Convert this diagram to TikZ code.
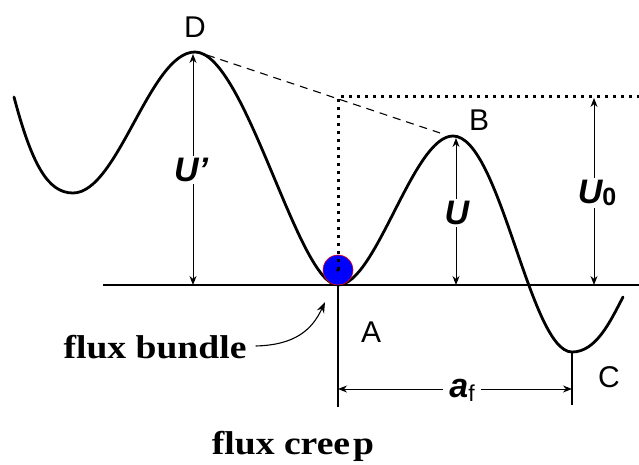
\documentclass[tikz,border=0pt]{standalone}
\usepackage{fontspec}
\setmainfont{Liberation Serif}
\setsansfont{Liberation Sans}
\newfontfamily\wideserif[FakeStretch=1.14]{Liberation Serif}
\usetikzlibrary{arrows.meta}
\begin{document}
\begin{tikzpicture}[x=1pt,y=-1pt,
  curve/.style={line width=2.8pt,line cap=round},
  base/.style={line width=1.3pt},
  dim/.style={line width=1pt,{Stealth[length=9pt,width=7pt]}-{Stealth[length=9pt,width=7pt]}},
  pt/.style={font=\sffamily\fontsize{30}{30}\selectfont,inner sep=1pt},
  sym/.style={font=\sffamily\bfseries\itshape\fontsize{34}{34}\selectfont,fill=white,inner sep=2pt},
  txt/.style={font=\wideserif\bfseries\fontsize{33}{33}\selectfont,inner sep=1pt},
  dotline/.style={line width=3pt,dash pattern=on 3pt off 5pt},
  dashline/.style={line width=1.1pt,dash pattern=on 8pt off 6pt}]
\useasboundingbox (0,0) rectangle (639,465);
% key points
\coordinate (S) at (14,97);
\coordinate (M) at (73,193);
\coordinate (Dp) at (195,52);
\coordinate (Ap) at (338,285);
\coordinate (Bp) at (453,136);
\coordinate (Cp) at (572,352);
\coordinate (E) at (623,297);
\coordinate (BL) at (103,285);
\coordinate (BR) at (639,285);
\coordinate (Top) at (338,97);
\coordinate (TR) at (639,97);
% baseline
\draw[base] (BL) -- (BR);
% potential curve
\draw[curve] (S) .. controls (32,165) and (48,193) .. (M)
  .. controls (118,193) and (150,52) .. (Dp)
  .. controls (245,52) and (298,285) .. (Ap)
  .. controls (376,285) and (413,136) .. (Bp)
  .. controls (500,136) and (530,352) .. (Cp)
  .. controls (596,352) and (610,322) .. (E);
% dashed line D-B
\draw[dashline] (207,55) -- (440,133);
% ball and dotted lines
\node (ball) [circle,fill=blue,draw=red,line width=0.6pt,minimum size=30pt,inner sep=0pt] at (338,270) {};
\draw[dotline] (ball.center) -- (Top) -- (TR);
\fill (ball.center) circle (1.8pt);
% verticals for a_f
\coordinate (Abot) at (338,407);
\coordinate (Cbot) at (572,405);
\draw[line width=1.1pt] (Ap) -- (Abot);
\draw[line width=1.1pt] (Cp) -- (Cbot);
% dimension arrows
\coordinate (U1t) at (193,54);  \coordinate (U1b) at (193,285);
\coordinate (U2t) at (456,138); \coordinate (U2b) at (456,285);
\coordinate (U3t) at (594,98);  \coordinate (U3b) at (594,285);
\coordinate (Al) at (338,389);  \coordinate (Cl) at (572,389);
\draw[dim] (U1t) -- (U1b);
\draw[dim] (U2t) -- (U2b);
\draw[dim] (U3t) -- (U3b);
\draw[dim] (Al) -- (Cl);
\node[sym] (Uprime) at (191,170) {U’};
\node[sym] (U) at (457,213) {U};
\node[sym] (U0) at (597,193) {U\raisebox{-2pt}{\upshape\fontsize{25}{25}\selectfont 0}};
\node[sym,inner xsep=6pt] (af) at (462,390) {a\raisebox{-4pt}{\upshape\mdseries\fontsize{23}{23}\selectfont f}};
% point labels
\node[pt] (D) at (195,27) {D};
\node[pt] (B) at (479,120) {B};
\node[pt] (A) at (371,332) {A};
\node[pt] (C) at (609,377) {C};
% texts
\node[txt] (fb) at (155,347) {flux bundle};
\node[txt] (fc) at (293,446) {flux cree\hspace{3pt}p};
\draw[line width=1.1pt,-{Stealth[length=11pt,width=8pt]}] (fb.east) ++(8,-1) .. controls (295,345) and (312,330) .. (325,302);
\end{tikzpicture}
\end{document}
